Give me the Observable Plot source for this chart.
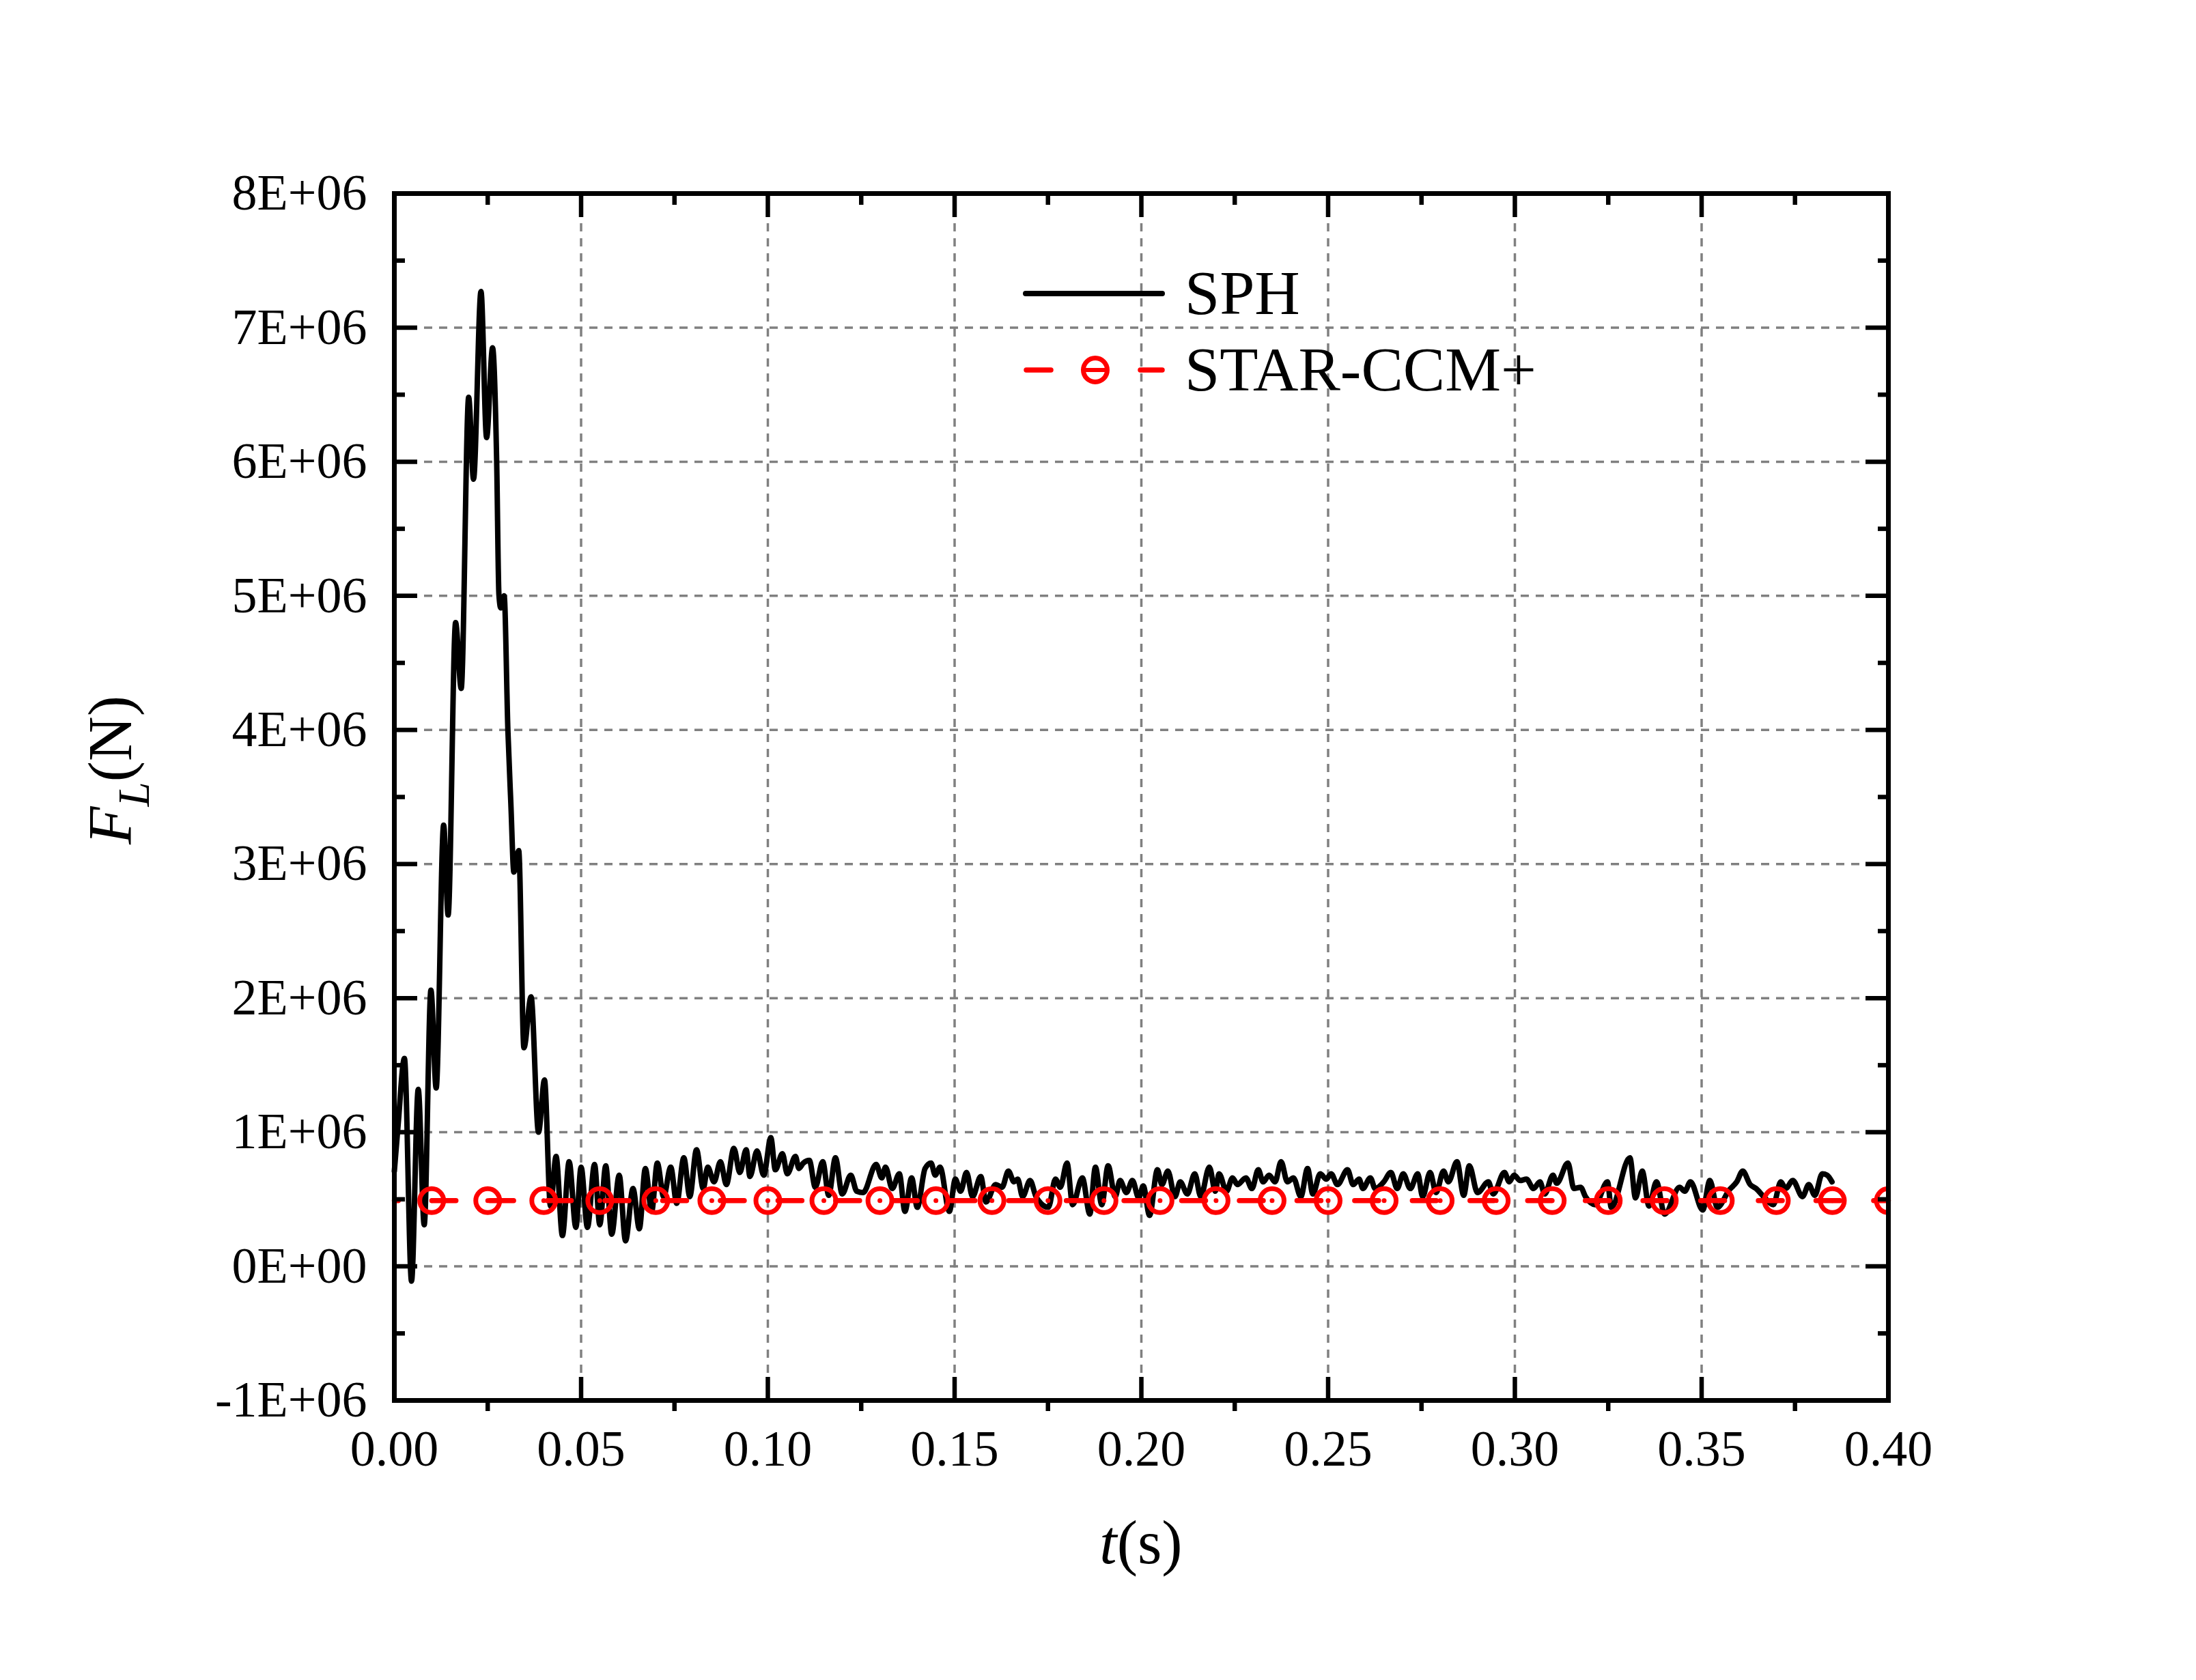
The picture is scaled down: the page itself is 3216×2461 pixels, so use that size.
<!DOCTYPE html>
<html>
<head>
<meta charset="utf-8">
<script src="https://cdn.jsdelivr.net/npm/d3@7"></script>
<script src="https://cdn.jsdelivr.net/npm/@observablehq/plot@0.6"></script>
<style>
  html, body { margin: 0; padding: 0; background: #ffffff; overflow: hidden; }
  #chart svg { display: block; }
</style>
</head>
<body>
<div id="chart"></div>
<script>
// ---- Data ----
const sphT = [
  0.0000, 0.0010, 0.0027, 0.0046, 0.0064, 0.0080, 0.0098, 0.0112, 0.0132, 0.0144,
  0.0164, 0.0179, 0.0199, 0.0212, 0.0232, 0.0247, 0.0263, 0.0274, 0.0280, 0.0285,
  0.0294, 0.0304, 0.0312, 0.0320, 0.0333, 0.0347, 0.0366, 0.0386, 0.0402, 0.0418,
  0.0433, 0.0450, 0.0468, 0.0486, 0.0500, 0.0517, 0.0536, 0.0550, 0.0566, 0.0582,
  0.0602, 0.0619, 0.0639, 0.0656, 0.0672, 0.0689, 0.0704, 0.0721, 0.0740, 0.0756,
  0.0775, 0.0791, 0.0809, 0.0827, 0.0839, 0.0856, 0.0873, 0.0889, 0.0909, 0.0925,
  0.0942, 0.0952, 0.0971, 0.0989, 0.1008, 0.1020, 0.1039, 0.1052, 0.1074, 0.1083,
  0.1095, 0.1111, 0.1127, 0.1147, 0.1163, 0.1181, 0.1199, 0.1222, 0.1238, 0.1255,
  0.1290, 0.1305, 0.1315, 0.1333, 0.1352, 0.1367, 0.1385, 0.1400, 0.1421, 0.1437,
  0.1448, 0.1461, 0.1486, 0.1502, 0.1516, 0.1532, 0.1548, 0.1570, 0.1584, 0.1610,
  0.1627, 0.1644, 0.1659, 0.1669, 0.1682, 0.1702, 0.1718, 0.1751, 0.1770, 0.1783,
  0.1801, 0.1816, 0.1842, 0.1862, 0.1877, 0.1894, 0.1911, 0.1930, 0.1943, 0.1960,
  0.1976, 0.1993, 0.2005, 0.2022, 0.2043, 0.2055, 0.2071, 0.2090, 0.2104, 0.2123,
  0.2143, 0.2159, 0.2182, 0.2198, 0.2208, 0.2228, 0.2244, 0.2257, 0.2280, 0.2296,
  0.2313, 0.2326, 0.2342, 0.2358, 0.2374, 0.2391, 0.2407, 0.2427, 0.2445, 0.2459,
  0.2479, 0.2495, 0.2508, 0.2525, 0.2552, 0.2567, 0.2583, 0.2593, 0.2613, 0.2626,
  0.2649, 0.2668, 0.2685, 0.2701, 0.2720, 0.2740, 0.2753, 0.2773, 0.2789, 0.2809,
  0.2822, 0.2845, 0.2863, 0.2878, 0.2900, 0.2929, 0.2942, 0.2972, 0.2985, 0.2998,
  0.3014, 0.3031, 0.3050, 0.3067, 0.3080, 0.3102, 0.3112, 0.3142, 0.3158, 0.3176,
  0.3189, 0.3215, 0.3248, 0.3258, 0.3308, 0.3323, 0.3341, 0.3359, 0.3379, 0.3401,
  0.3441, 0.3455, 0.3470, 0.3503, 0.3522, 0.3542, 0.3574, 0.3594, 0.3610, 0.3630,
  0.3646, 0.3666, 0.3692, 0.3712, 0.3725, 0.3744, 0.3770, 0.3787, 0.3803, 0.3823,
  0.3836, 0.3849
];
// SPH lift force, in units of 1E+06 N
const sphF = [
  0.71, 1.05, 1.55, -0.11, 1.32, 0.31, 2.06, 1.33, 3.29, 2.62,
  4.80, 4.31, 6.48, 5.87, 7.27, 6.18, 6.85, 6.00, 5.01, 4.91,
  5.00, 4.00, 3.45, 2.94, 3.10, 1.63, 2.01, 1.00, 1.39, 0.45,
  0.82, 0.23, 0.78, 0.29, 0.74, 0.29, 0.76, 0.31, 0.75, 0.24,
  0.68, 0.19, 0.58, 0.28, 0.73, 0.41, 0.77, 0.52, 0.74, 0.47,
  0.81, 0.52, 0.87, 0.58, 0.74, 0.63, 0.78, 0.61, 0.88, 0.70,
  0.87, 0.67, 0.86, 0.68, 0.96, 0.72, 0.84, 0.69, 0.82, 0.73,
  0.77, 0.79, 0.59, 0.78, 0.53, 0.81, 0.54, 0.68, 0.56, 0.55,
  0.76, 0.66, 0.74, 0.58, 0.69, 0.41, 0.66, 0.44, 0.73, 0.77,
  0.68, 0.74, 0.41, 0.65, 0.56, 0.70, 0.52, 0.67, 0.48, 0.61,
  0.59, 0.71, 0.63, 0.65, 0.52, 0.64, 0.52, 0.44, 0.65, 0.59,
  0.77, 0.46, 0.66, 0.39, 0.74, 0.46, 0.75, 0.52, 0.64, 0.55,
  0.64, 0.51, 0.60, 0.38, 0.72, 0.61, 0.71, 0.52, 0.63, 0.54,
  0.69, 0.52, 0.74, 0.56, 0.69, 0.56, 0.66, 0.61, 0.66, 0.58,
  0.72, 0.63, 0.68, 0.63, 0.78, 0.63, 0.66, 0.52, 0.73, 0.54,
  0.69, 0.65, 0.69, 0.61, 0.72, 0.61, 0.65, 0.58, 0.66, 0.58,
  0.63, 0.70, 0.58, 0.69, 0.58, 0.69, 0.52, 0.70, 0.55, 0.71,
  0.63, 0.78, 0.53, 0.75, 0.55, 0.63, 0.54, 0.70, 0.63, 0.68,
  0.64, 0.65, 0.58, 0.63, 0.54, 0.68, 0.62, 0.77, 0.58, 0.59,
  0.52, 0.46, 0.63, 0.44, 0.81, 0.51, 0.71, 0.45, 0.63, 0.39,
  0.59, 0.56, 0.63, 0.42, 0.64, 0.44, 0.57, 0.63, 0.71, 0.61,
  0.58, 0.52, 0.46, 0.63, 0.58, 0.64, 0.52, 0.61, 0.53, 0.69,
  0.68, 0.63
];
const starT = [
  0.000, 0.010, 0.025, 0.040, 0.055, 0.070, 0.085, 0.100, 0.115, 0.130,
  0.145, 0.160, 0.175, 0.190, 0.205, 0.220, 0.235, 0.250, 0.265, 0.280,
  0.295, 0.310, 0.325, 0.340, 0.355, 0.370, 0.385, 0.400
];
// STAR-CCM+ lift force, in units of 1E+06 N
const starF = [
  0.49, 0.49, 0.49, 0.49, 0.49, 0.49, 0.49, 0.49, 0.49, 0.49,
  0.49, 0.49, 0.49, 0.49, 0.49, 0.49, 0.49, 0.49, 0.49, 0.49,
  0.49, 0.49, 0.49, 0.49, 0.49, 0.49, 0.49, 0.49
];
const xTicks = [0, 0.05, 0.10, 0.15, 0.20, 0.25, 0.30, 0.35, 0.40];
const xTickLabels = ["0.00", "0.05", "0.10", "0.15", "0.20", "0.25", "0.30", "0.35", "0.40"];
const xMinor = [0.025, 0.075, 0.125, 0.175, 0.225, 0.275, 0.325, 0.375];
const yTicks = [-1e6, 0, 1e6, 2e6, 3e6, 4e6, 5e6, 6e6, 7e6, 8e6];
const yTickLabels = ["-1E+06", "0E+00", "1E+06", "2E+06", "3E+06", "4E+06", "5E+06", "6E+06", "7E+06", "8E+06"];
const yMinor = [-0.5e6, 0.5e6, 1.5e6, 2.5e6, 3.5e6, 4.5e6, 5.5e6, 6.5e6, 7.5e6];
const seriesNames = ["SPH", "STAR-CCM+"];
const xTitle = ["t", "(s)"];
const yTitle = ["F", "L", "(N)"];

// ---- Tables built from the arrays ----
const sph = sphT.map((t, i) => ({t, f: sphF[i] * 1e6}));
const star = starT.map((t, i) => ({t, f: starF[i] * 1e6}));
const starMarks = star.filter(d => d.t > 0);
const xLab = new Map(xTicks.map((d, i) => [d, xTickLabels[i]]));
const yLab = new Map(yTicks.map((d, i) => [d, yTickLabels[i]]));

const W = 3216, H = 2461;
const mL = 577, mR = 451, mT = 283, mB = 410;
const FONT = "'Liberation Serif', 'Times New Roman', serif";
const RED = "#ff0000";
const GRID = "#808080";

const axisStyle = {strokeWidth: 6.5, fill: "none", label: null};

const svg = Plot.plot({
  width: W,
  height: H,
  marginLeft: mL,
  marginRight: mR,
  marginTop: mT,
  marginBottom: mB,
  style: {fontFamily: FONT, fontSize: "74px", background: "#ffffff", color: "#000000", overflow: "visible"},
  x: {domain: [0, 0.4]},
  y: {domain: [-1e6, 8e6]},
  marks: [
    Plot.gridX(xTicks, {stroke: GRID, strokeOpacity: 1, strokeWidth: 3.5, strokeDasharray: "12,10"}),
    Plot.gridY(yTicks, {stroke: GRID, strokeOpacity: 1, strokeWidth: 3.5, strokeDasharray: "12,10"}),
    Plot.line(sph, {x: "t", y: "f", stroke: "#000000", strokeWidth: 8, curve: "monotone-x", strokeLinejoin: "round", strokeLinecap: "round"}),
    Plot.line(star, {x: "t", y: "f", stroke: RED, strokeWidth: 7.5, strokeDasharray: "35,49.45", strokeDashoffset: 29.25, strokeLinecap: "round"}),
    Plot.dot(starMarks, {x: "t", y: "f", r: 17.5, stroke: RED, strokeWidth: 7, fill: "none", clip: true}),
    Plot.dot(starMarks, {x: "t", y: "f", r: 3.5, fill: RED, stroke: "none", clip: true}),
    Plot.frame({stroke: "#000000", strokeWidth: 7}),
    // major ticks (inward) on all four sides
    Plot.axisX(xTicks, {anchor: "bottom", tickSize: -34, ...axisStyle}),
    Plot.axisX(xTicks, {anchor: "top", tickSize: -34, ...axisStyle}),
    Plot.axisY(yTicks, {anchor: "left", tickSize: -34, ...axisStyle}),
    Plot.axisY(yTicks, {anchor: "right", tickSize: -34, ...axisStyle}),
    // minor ticks
    Plot.axisX(xMinor, {anchor: "bottom", tickSize: 16, ...axisStyle}),
    Plot.axisX(xMinor, {anchor: "top", tickSize: -16, ...axisStyle}),
    Plot.axisY(yMinor, {anchor: "left", tickSize: -16, ...axisStyle}),
    Plot.axisY(yMinor, {anchor: "right", tickSize: -16, ...axisStyle}),
    // tick labels
    Plot.axisX(xTicks, {anchor: "bottom", tickSize: 0, tickPadding: 43, tickFormat: d => xLab.get(d), fontSize: 74, label: null, fill: "#000000"}),
    Plot.axisY(yTicks, {anchor: "left", tickSize: 0, tickPadding: 40, tickFormat: d => yLab.get(d), fontSize: 74, label: null, fill: "#000000"})
  ]
});

document.getElementById("chart").appendChild(svg);

// ---- Axis titles and legend ----
const s = d3.select(svg);
const cx = mL + (W - mL - mR) / 2;

const xt = s.append("text")
  .attr("x", cx).attr("y", 2290)
  .attr("text-anchor", "middle")
  .attr("font-family", FONT).attr("font-size", 91).attr("fill", "#000000");
xt.append("tspan").attr("font-style", "italic").text(xTitle[0]);
xt.append("tspan").text(xTitle[1]);

const yt = s.append("text")
  .attr("transform", "translate(192,1128) rotate(-90)")
  .attr("text-anchor", "middle")
  .attr("font-family", FONT).attr("font-size", 91).attr("fill", "#000000");
yt.append("tspan").attr("font-style", "italic").text(yTitle[0]);
yt.append("tspan").attr("font-style", "italic").attr("font-size", 65).attr("dy", 26).text(yTitle[1]);
yt.append("tspan").attr("dy", -26).text(yTitle[2]);

const lg = s.append("g").attr("text-anchor", "start");
// SPH entry
lg.append("line").attr("x1", 1502).attr("x2", 1702).attr("y1", 430).attr("y2", 430)
  .attr("stroke", "#000000").attr("stroke-width", 8).attr("stroke-linecap", "round");
lg.append("text").attr("x", 1735).attr("y", 460).attr("text-anchor", "start")
  .attr("font-family", FONT).attr("font-size", 92).attr("fill", "#000000").text(seriesNames[0]);
// STAR-CCM+ entry
lg.append("line").attr("x1", 1503).attr("x2", 1539).attr("y1", 542).attr("y2", 542)
  .attr("stroke", RED).attr("stroke-width", 7.5).attr("stroke-linecap", "round");
lg.append("line").attr("x1", 1670).attr("x2", 1702).attr("y1", 542).attr("y2", 542)
  .attr("stroke", RED).attr("stroke-width", 7.5).attr("stroke-linecap", "round");
lg.append("circle").attr("cx", 1604).attr("cy", 542).attr("r", 17.5)
  .attr("fill", "none").attr("stroke", RED).attr("stroke-width", 7);
lg.append("line").attr("x1", 1589).attr("x2", 1619).attr("y1", 542).attr("y2", 542)
  .attr("stroke", RED).attr("stroke-width", 6);
lg.append("text").attr("x", 1735).attr("y", 572).attr("text-anchor", "start")
  .attr("font-family", FONT).attr("font-size", 92).attr("fill", "#000000").text(seriesNames[1]);
</script>
</body>
</html>
